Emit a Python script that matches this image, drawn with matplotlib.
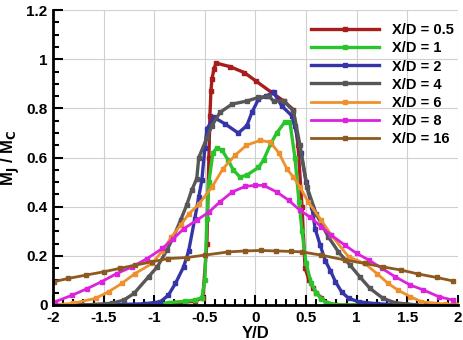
import matplotlib
matplotlib.use('Agg')
import matplotlib.pyplot as plt
from matplotlib.ticker import MultipleLocator

plt.rcParams['font.family'] = ['Liberation Sans', 'DejaVu Sans']
plt.rcParams['font.weight'] = 'bold'
plt.rcParams['font.size'] = 10

# X/D = 0.5
x05 = [-2.0, -1.5, -1.0, -0.75, -0.6, -0.52, -0.48, -0.46, -0.45, -0.44, -0.43, -0.41, -0.39,
       -0.25, -0.11, 0.01, 0.16, 0.28, 0.375, 0.42, 0.46, 0.49, 0.53, 0.57, 0.6, 0.65, 0.7, 0.8, 1.0, 1.5, 2.0]
y05 = [0.0, 0.0, 0.0, 0.01, 0.015, 0.03, 0.25, 0.6, 0.77, 0.87, 0.92, 0.96, 0.985,
       0.97, 0.946, 0.91, 0.865, 0.83, 0.795, 0.65, 0.4, 0.15, 0.1, 0.07, 0.05, 0.03, 0.01, 0.0, 0.0, 0.0, 0.0]
# X/D = 1
x1 = [-2.0, -1.5, -1.0, -0.85, -0.7, -0.6, -0.53, -0.5, -0.48, -0.46, -0.42, -0.38, -0.33, -0.27,
      -0.22, -0.15, -0.08, 0.03, 0.08, 0.15, 0.21, 0.29, 0.34, 0.39, 0.43, 0.46, 0.5, 0.55, 0.6, 0.65,
      0.7, 0.8, 1.0, 1.5, 2.0]
y1 = [0.0, 0.0, 0.0, 0.01, 0.015, 0.02, 0.03, 0.1, 0.35, 0.5, 0.62, 0.64, 0.63, 0.59,
      0.55, 0.52, 0.53, 0.56, 0.59, 0.656, 0.70, 0.745, 0.745, 0.6, 0.42, 0.3, 0.17, 0.09, 0.05, 0.025,
      0.01, 0.0, 0.0, 0.0, 0.0]
# X/D = 2
x2 = [-2.0, -1.5, -1.1, -0.94, -0.86, -0.79, -0.71, -0.66, -0.6, -0.56, -0.53, -0.5, -0.48, -0.41,
      -0.3, -0.17, -0.085, -0.035, 0.03, 0.1, 0.18, 0.26, 0.36, 0.39, 0.45, 0.5, 0.556, 0.59, 0.64,
      0.69, 0.74, 0.79, 0.85, 0.92, 1.02, 1.2, 1.5, 2.0]
y2 = [0.0, 0.0, 0.005, 0.013, 0.04, 0.088, 0.155, 0.22, 0.35, 0.44, 0.507, 0.64, 0.717, 0.764,
      0.737, 0.70, 0.73, 0.784, 0.838, 0.85, 0.865, 0.81, 0.77, 0.73, 0.62, 0.5, 0.40, 0.31, 0.243,
      0.18, 0.14, 0.095, 0.054, 0.027, 0.013, 0.005, 0.0, 0.0]
# X/D = 4
x4 = [-2.0, -1.7, -1.42, -1.3, -1.2, -1.056, -0.97, -0.875, -0.81, -0.74, -0.68, -0.63, -0.58,
      -0.56, -0.48, -0.43, -0.35, -0.23, -0.085, 0.03, 0.13, 0.18, 0.28, 0.375, 0.44, 0.51, 0.6,
      0.72, 0.82, 0.935, 1.03, 1.13, 1.26, 1.38, 1.6, 2.0]
y4 = [0.0, 0.0, 0.007, 0.02, 0.047, 0.115, 0.155, 0.223, 0.277, 0.345, 0.406, 0.467, 0.514,
      0.6, 0.68, 0.73, 0.784, 0.818, 0.83, 0.845, 0.85, 0.83, 0.83, 0.79, 0.65, 0.48, 0.37,
      0.277, 0.216, 0.162, 0.115, 0.068, 0.027, 0.009, 0.0, 0.0]
# X/D = 6
x6 = [-2.0, -1.8, -1.58, -1.45, -1.32, -1.19, -1.02, -0.92, -0.83, -0.74, -0.66, -0.56, -0.43,
      -0.32, -0.2, -0.09, 0.046, 0.145, 0.23, 0.31, 0.375, 0.44, 0.52, 0.65, 0.75, 0.92, 1.08,
      1.2, 1.31, 1.41, 1.53, 1.64, 1.87, 2.0]
y6 = [0.0, 0.007, 0.027, 0.054, 0.088, 0.128, 0.169, 0.22, 0.277, 0.325, 0.37, 0.41, 0.48,
      0.555, 0.61, 0.65, 0.67, 0.663, 0.62, 0.555, 0.52, 0.48, 0.42, 0.345, 0.284, 0.196, 0.169,
      0.128, 0.088, 0.06, 0.034, 0.013, 0.004, 0.0]
# X/D = 8
x8 = [-1.98, -1.81, -1.66, -1.52, -1.37, -1.22, -1.07, -0.92, -0.81, -0.71, -0.58, -0.46, -0.35,
      -0.23, -0.1, 0.0, 0.08, 0.21, 0.33, 0.44, 0.54, 0.65, 0.75, 0.885, 1.0, 1.12, 1.25, 1.38,
      1.53, 1.66, 1.81, 1.95]
y8 = [0.013, 0.04, 0.067, 0.095, 0.128, 0.155, 0.189, 0.23, 0.27, 0.31, 0.345, 0.378, 0.42,
      0.46, 0.483, 0.487, 0.487, 0.46, 0.426, 0.385, 0.358, 0.318, 0.284, 0.243, 0.21, 0.183,
      0.149, 0.115, 0.081, 0.061, 0.034, 0.02]
# X/D = 16
x16 = [-1.99, -1.85, -1.67, -1.5, -1.34, -1.19, -1.02, -0.86, -0.68, -0.5, -0.27, -0.1, 0.05,
       0.2, 0.35, 0.46, 0.65, 0.885, 1.08, 1.26, 1.44, 1.61, 1.79, 1.95]
y16 = [0.095, 0.108, 0.122, 0.135, 0.149, 0.162, 0.176, 0.189, 0.193, 0.203, 0.216, 0.22, 0.222,
       0.22, 0.218, 0.216, 0.203, 0.183, 0.169, 0.155, 0.142, 0.126, 0.112, 0.098]

series = [
    (x05, y05, 'X/D = 0.5', '#a81c1c', 2.4),
    (x1, y1, 'X/D = 1', '#2cc42c', 2.4),
    (x2, y2, 'X/D = 2', '#3535a8', 2.4),
    (x4, y4, 'X/D = 4', '#575757', 2.4),
    (x6, y6, 'X/D = 6', '#ee902c', 2.0),
    (x8, y8, 'X/D = 8', '#dc22dc', 2.0),
    (x16, y16, 'X/D = 16', '#8c5a20', 2.0),
]

fig = plt.figure(figsize=(4.63, 3.4), dpi=100)
ax = fig.add_axes([0.1145, 0.103, 0.8745, 0.867])

for xs, ys, lab, col, lw in series:
    ax.plot(xs, ys, color=col, lw=lw, marker='s', ms=3.0, label=lab)

ax.set_xlim(-2, 2)
ax.set_ylim(0, 1.2)
ax.xaxis.set_minor_locator(MultipleLocator(0.1))
ax.yaxis.set_minor_locator(MultipleLocator(0.05))
ax.set_xticks([-2, -1.5, -1, -0.5, 0, 0.5, 1, 1.5, 2])
ax.set_xticklabels(['-2', '-1.5', '-1', '-0.5', '0', '0.5', '1', '1.5', '2'])
ax.set_yticks([0, 0.2, 0.4, 0.6, 0.8, 1, 1.2])
ax.set_yticklabels(['0', '0.2', '0.4', '0.6', '0.8', '1', '1.2'])
ax.grid(True, which='major', color='#d0d0d0', lw=0.8)
ax.set_axisbelow(True)
ax.tick_params(which='both', direction='in', width=1.5)
ax.tick_params(which='major', length=7, labelsize=11, pad=4)
ax.tick_params(which='minor', length=4)
for s in ['left', 'bottom']:
    ax.spines[s].set_linewidth(2)
for s in ['top', 'right']:
    ax.spines[s].set_visible(False)

ax.set_xlabel('Y/D', fontsize=12, fontweight='bold', labelpad=1)
ax.set_ylabel(r'M$_\mathbf{J}$ / M$_\mathbf{C}$', fontsize=12, fontweight='bold', labelpad=3)

ax.legend(loc='upper right', bbox_to_anchor=(1.02, 0.995), frameon=False,
          handlelength=4.7, fontsize=10.5, labelspacing=0.28, borderaxespad=0.4,
          handletextpad=0.9)

fig.savefig('out.png', dpi=100)
